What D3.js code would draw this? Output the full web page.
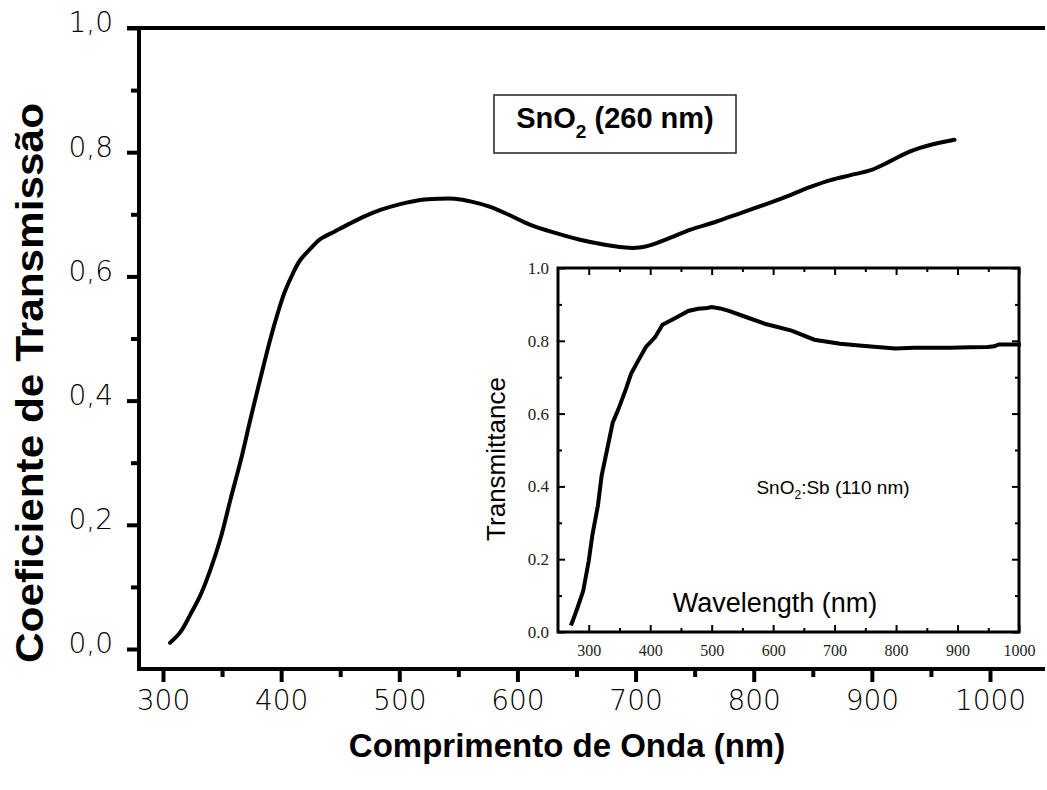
<!DOCTYPE html>
<html><head><meta charset="utf-8">
<script src="https://cdn.jsdelivr.net/npm/d3@7"></script>
<style>body{margin:0;background:#fff}svg{display:block}</style>
</head><body>
<svg id="c" width="1047" height="790"></svg>
<script>
// ---------- data ----------
// main chart: SnO2 (260 nm)
const mainWavelength = [306,315,323,332,340,349,357,366,374,383,391,397,403,410,416,425,433,445,458,471,484,500,518,533,547,562,577,594,611,632,653,674,695,705,712,729,746,768,789,810,831,848,865,882,899,916,932,950,970];
const mainTransmission = [0.010,0.028,0.055,0.088,0.127,0.180,0.240,0.305,0.370,0.440,0.500,0.540,0.575,0.605,0.626,0.645,0.660,0.672,0.685,0.697,0.707,0.716,0.723,0.725,0.725,0.720,0.712,0.698,0.683,0.670,0.659,0.651,0.646,0.647,0.650,0.662,0.675,0.688,0.702,0.716,0.731,0.744,0.755,0.763,0.771,0.786,0.801,0.812,0.820];
const mainXTicks = [300,400,500,600,700,800,900,1000];
const mainYTicks = [0,0.2,0.4,0.6,0.8,1.0];
// inset: SnO2:Sb (110 nm)
const insetWavelength = [271,276,282,291,300,306,315,321,330,339,348,360,369,381,393,408,420,438,462,478,493,500,514,528,558,588,630,667,709,740,769,799,830,860,889,920,949,960,967,1003];
const insetTransmission = [0.018,0.040,0.068,0.113,0.195,0.267,0.348,0.430,0.502,0.575,0.611,0.665,0.710,0.747,0.783,0.810,0.844,0.860,0.882,0.888,0.890,0.893,0.889,0.882,0.864,0.846,0.828,0.803,0.792,0.787,0.783,0.779,0.781,0.781,0.781,0.782,0.783,0.785,0.790,0.790];
const insetXTicks = [300,400,500,600,700,800,900,1000];
const insetYTicks = [0,0.2,0.4,0.6,0.8,1.0];

const svg = d3.select("#c");
const mainFont = "'DejaVu Sans',sans-serif";
const boldFont = "'Liberation Sans',Arial,sans-serif";

// ---------- main scales ----------
const x = d3.scaleLinear().domain([300,1000]).range([163,990]);
const y = d3.scaleLinear().domain([0,1]).range([649,28]);
const xLeft = x.invert(139), xRight = x.invert(1045), yBottom = y.invert(669);

// main curve
svg.append("path")
  .datum(mainWavelength.map((w,i)=>[w,mainTransmission[i]]))
  .attr("fill","none").attr("stroke","#000").attr("stroke-width",4)
  .attr("stroke-linecap","round")
  .attr("d", d3.line().x(d=>x(d[0])).y(d=>y(d[1])).curve(d3.curveCatmullRom));

// ---------- inset ----------
const g = svg.append("g");
g.append("rect").attr("x",477).attr("y",258).attr("width",570).attr("height",404).attr("fill","#fff");
const ix = d3.scaleLinear().domain([250,1000]).range([558,1019]);
const iy = d3.scaleLinear().domain([0,1]).range([632,268]);
const iMinorX = d3.range(350,1000,100);
const iMinorY = [0.1,0.3,0.5,0.7,0.9];

function inAxis(axisGen, tr){
  const a = g.append("g").attr("transform",tr).call(axisGen);
  a.select(".domain").remove();
  a.selectAll(".tick line").attr("stroke","#000").attr("stroke-width",2);
  a.selectAll("text").attr("font-family","'Liberation Serif','Times New Roman',serif").attr("font-size",17).attr("fill","#222");
  return a;
}
// bottom (inward)
inAxis(d3.axisBottom(ix).tickValues(insetXTicks).tickSize(-7).tickPadding(13).tickFormat(d3.format("d")),"translate(0,632)")
  .selectAll("text").attr("font-size",16);
inAxis(d3.axisBottom(ix).tickValues(iMinorX).tickSize(-4).tickFormat(""),"translate(0,632)");
// top
inAxis(d3.axisTop(ix).tickValues(insetXTicks).tickSize(-7).tickFormat(""),"translate(0,268)");
inAxis(d3.axisTop(ix).tickValues(iMinorX).tickSize(-4).tickFormat(""),"translate(0,268)");
// left
inAxis(d3.axisLeft(iy).tickValues(insetYTicks).tickSize(-7).tickPadding(9).tickFormat(d3.format(".1f")),"translate(558,0)");
inAxis(d3.axisLeft(iy).tickValues(iMinorY).tickSize(-4).tickFormat(""),"translate(558,0)");
// right
inAxis(d3.axisRight(iy).tickValues(insetYTicks).tickSize(-7).tickFormat(""),"translate(1019,0)");
inAxis(d3.axisRight(iy).tickValues(iMinorY).tickSize(-4).tickFormat(""),"translate(1019,0)");
// frame
g.append("rect").attr("x",ix(250)).attr("y",iy(1)).attr("width",ix(1000)-ix(250)).attr("height",iy(0)-iy(1))
  .attr("fill","none").attr("stroke","#000").attr("stroke-width",3);
// inset curve
g.append("path")
  .datum(insetWavelength.map((w,i)=>[w,insetTransmission[i]]))
  .attr("fill","none").attr("stroke","#000").attr("stroke-width",4)
  .attr("d", d3.line().x(d=>ix(d[0])).y(d=>iy(d[1])).curve(d3.curveLinear));
// inset texts
g.append("text").attr("transform","translate(505,459) rotate(-90)").attr("text-anchor","middle")
  .attr("font-family","'Liberation Sans',Arial,sans-serif").attr("font-size",26).text("Transmittance");
g.append("text").attr("x",775).attr("y",612).attr("text-anchor","middle")
  .attr("font-family","'Liberation Sans',Arial,sans-serif").attr("font-size",27).text("Wavelength (nm)");
const sb = g.append("text").attr("x",833).attr("y",494).attr("text-anchor","middle")
  .attr("font-family","'Liberation Sans',Arial,sans-serif").attr("font-size",19);
sb.append("tspan").text("SnO");
sb.append("tspan").attr("font-size",12).attr("dy",5).text("2");
sb.append("tspan").attr("dy",-5).text(":Sb (110 nm)");

// ---------- main axes ----------
function mAxis(gen, tr){
  const a = svg.append("g").attr("transform",tr).call(gen);
  a.select(".domain").remove();
  a.selectAll(".tick line").attr("stroke","#000").attr("stroke-width",4);
  a.selectAll("text").attr("font-family",mainFont).attr("font-weight",200).attr("font-size",28).attr("fill","#000");
  return a;
}
mAxis(d3.axisBottom(x).tickValues(mainXTicks).tickSize(13).tickPadding(8).tickFormat(d3.format("d")),"translate(0,669)");
mAxis(d3.axisBottom(x).tickValues(d3.range(350,1000,100)).tickSize(8).tickFormat(""),"translate(0,669)");
mAxis(d3.axisLeft(y).tickValues(mainYTicks).tickSize(12).tickPadding(14).tickFormat(d=>d3.format(".1f")(d).replace(".",",")),"translate(139,0)")
  .selectAll("text").attr("dy","0.14em");
mAxis(d3.axisLeft(y).tickValues([0.1,0.3,0.5,0.7,0.9]).tickSize(8).tickFormat(""),"translate(139,0)");
// axis lines
svg.append("line").attr("x1",x(xLeft)).attr("x2",x(xLeft)).attr("y1",y(1)).attr("y2",y(yBottom)+2).attr("stroke","#000").attr("stroke-width",4);
svg.append("line").attr("x1",x(xLeft)-2).attr("x2",x(xRight)).attr("y1",y(yBottom)).attr("y2",y(yBottom)).attr("stroke","#000").attr("stroke-width",4);
svg.append("line").attr("x1",127).attr("x2",x(xRight)).attr("y1",y(1)).attr("y2",y(1)).attr("stroke","#000").attr("stroke-width",4);

// titles
svg.append("text").attr("x",567).attr("y",757).attr("text-anchor","middle")
  .attr("font-family",boldFont).attr("font-weight","bold").attr("font-size",33).text("Comprimento de Onda (nm)");
svg.append("text").attr("transform","translate(43,383) rotate(-90)").attr("text-anchor","middle")
  .attr("font-family",boldFont).attr("font-weight","bold").attr("font-size",38)
  .attr("textLength",560).attr("lengthAdjust","spacingAndGlyphs").text("Coeficiente de Transmissão");

// label box
svg.append("rect").attr("x",494).attr("y",95).attr("width",242).attr("height",58).attr("fill","#fff").attr("stroke","#222").attr("stroke-width",1.5);
const lb = svg.append("text").attr("x",615).attr("y",128).attr("text-anchor","middle")
  .attr("font-family",boldFont).attr("font-weight","bold").attr("font-size",29);
lb.append("tspan").text("SnO");
lb.append("tspan").attr("font-size",19).attr("dy",10).text("2");
lb.append("tspan").attr("dy",-10).text(" (260 nm)");
</script>
</body></html>
